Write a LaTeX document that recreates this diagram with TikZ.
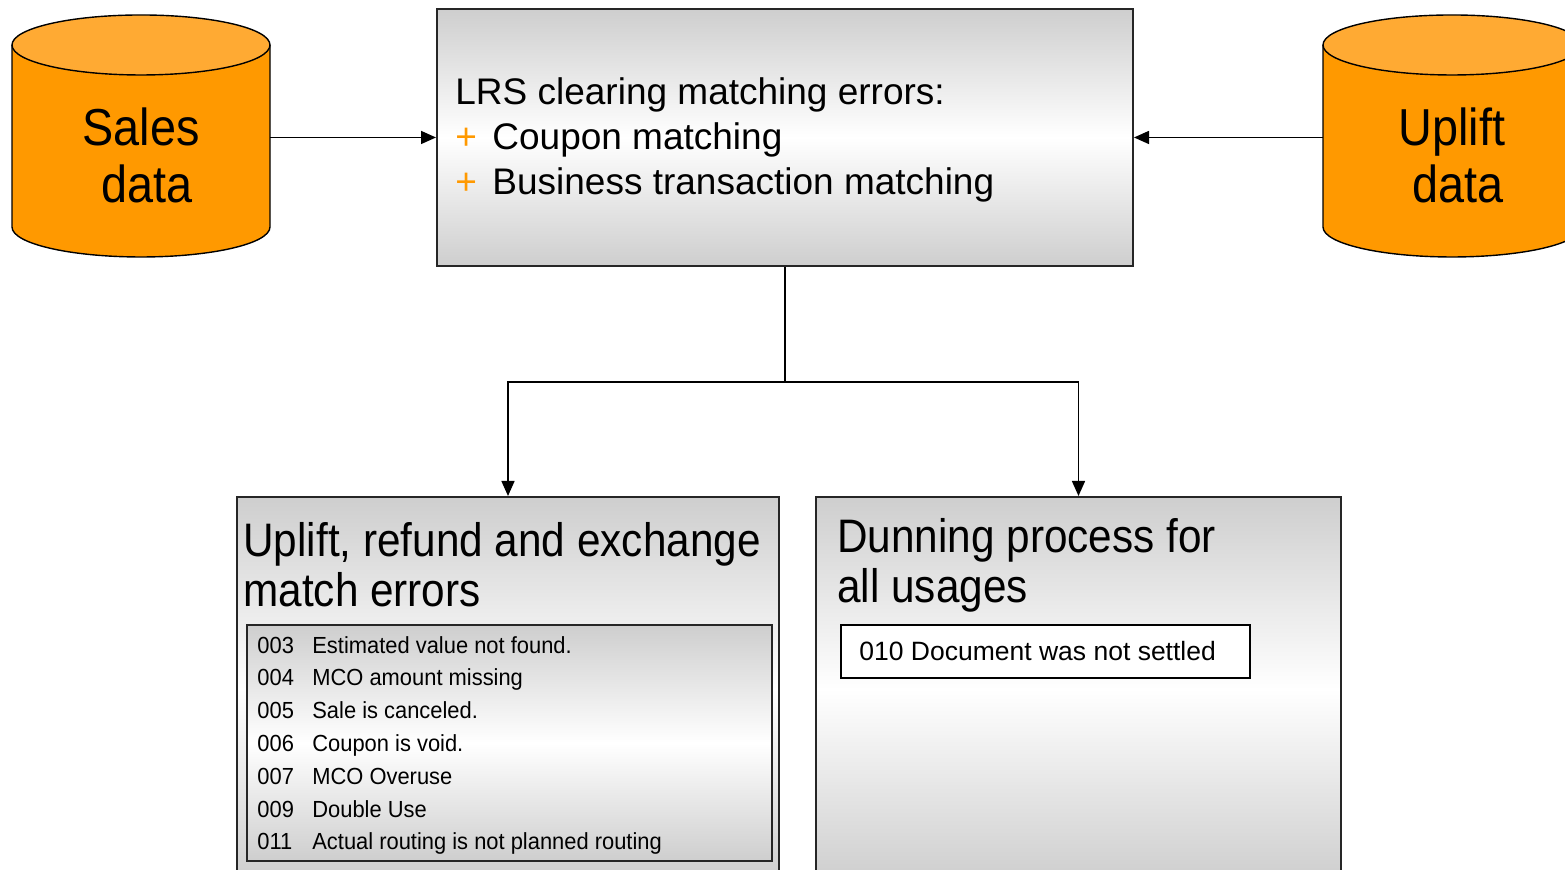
\documentclass[tikz,border=0pt]{standalone}
\usepackage{fontspec}
\setmainfont{Liberation Sans}
\newfontfamily\tallfont[FakeStretch=0.9]{Liberation Sans}
\newfontfamily\listfont[FakeStretch=0.94]{Liberation Sans}
\usetikzlibrary{arrows.meta}
\definecolor{dbbody}{HTML}{FF9900}
\definecolor{dbtop}{HTML}{FFAA33}
\definecolor{plusorange}{HTML}{FF9900}
\definecolor{panelgray}{HTML}{CECECE}
\tikzset{
  panel/.style={draw=black!85, line width=1pt, top color=panelgray,
    bottom color=panelgray, middle color=white, inner sep=0pt},
  dbline/.style={draw=black, line width=0.7pt},
  link/.style={draw=black, line width=0.75pt},
  arrowlink/.style={link, -{Triangle[length=7.5pt,width=6.5pt]}},
  label/.style={inner sep=0pt, anchor=base west, align=left},
  dblabel/.style={inner sep=0pt, anchor=base, align=center,
    text width=129pt, font=\tallfont\fontsize{26pt}{28.5pt}\selectfont}
}
\newcommand{\plusitem}[1]{\makebox[18.5pt][l]{\textcolor{plusorange}{+}}#1}
\newcommand{\errcode}[2]{\makebox[27.5pt][l]{#1}#2}
\begin{document}
\begin{tikzpicture}[x=0.5pt,y=0.5pt]
\useasboundingbox (0,0) rectangle (1565,870);
\clip (0,0) rectangle (1565,870);

% database cylinders
\foreach \cx in {141,1452}{
  \fill[dbbody] (\cx-129,825) -- (\cx-129,643)
     arc[start angle=180,end angle=360,x radius=129,y radius=30]
     -- (\cx+129,825) -- cycle;
  \draw[dbline] (\cx-129,825) -- (\cx-129,643)
     arc[start angle=180,end angle=360,x radius=129,y radius=30]
     -- (\cx+129,825);
  \filldraw[dbline, fill=dbtop] (\cx,825) ellipse[x radius=129,y radius=30];
}
\node[dblabel] (sales) at (141,724) {Sales\\\hspace*{6pt}data};
\node[dblabel] (uplift) at (1452,724) {Uplift\\\hspace*{6pt}data};

% central matching box
\node[panel, anchor=north west, minimum width=348pt, minimum height=128.5pt] (lrs) at (436,862) {};
\node[label, font=\fontsize{18.5pt}{22.5pt}\selectfont] (lrstext) at (455,675)
  {LRS clearing matching errors:\\ \plusitem{Coupon matching}\\ \plusitem{Business transaction matching}};

% result boxes
\node[panel, anchor=north west, minimum width=271pt, minimum height=192pt] (match) at (236,374) {};
\node[panel, anchor=north west, minimum width=262.5pt, minimum height=192pt] (dunning) at (815,374) {};

\node[label, font=\tallfont\fontsize{23.5pt}{25pt}\selectfont] (matchtitle) at (243,263)
  {Uplift, refund and exchange\\match errors};
\node[label, font=\tallfont\fontsize{23.5pt}{25pt}\selectfont] (dunningtitle) at (837,267)
  {Dunning process for\\all usages};

\node[panel, anchor=north west, minimum width=262.5pt, minimum height=118pt] (errlist) at (246,246) {};
\node[label, font=\listfont\fontsize{11.65pt}{16.4pt}\selectfont] (errtext) at (257,20)
  {\errcode{003}{Estimated value not found.}\\
   \errcode{004}{MCO amount missing}\\
   \errcode{005}{Sale is canceled.}\\
   \errcode{006}{Coupon is void.}\\
   \errcode{007}{MCO Overuse}\\
   \errcode{009}{Double Use}\\
   \errcode{011}{Actual routing is not planned routing}};

\node[draw=black, line width=1pt, fill=white, anchor=north west, inner sep=0pt,
  minimum width=204.5pt, minimum height=26.5pt] (settled) at (840,246) {};
\node[label, font=\fontsize{13.25pt}{16pt}\selectfont] (settledtext) at (859,209)
  {010 Document was not settled};

% connectors
\draw[arrowlink] (sales.east |- lrs.west) -- (lrs.west);
\draw[arrowlink] (uplift.west |- lrs.east) -- (lrs.east);
\draw[link] (lrs.south) -- ++(0,-115) coordinate (split);
\draw[arrowlink] (split) -| (match.north);
\draw[arrowlink] (split) -| (dunning.north);
\end{tikzpicture}
\end{document}
